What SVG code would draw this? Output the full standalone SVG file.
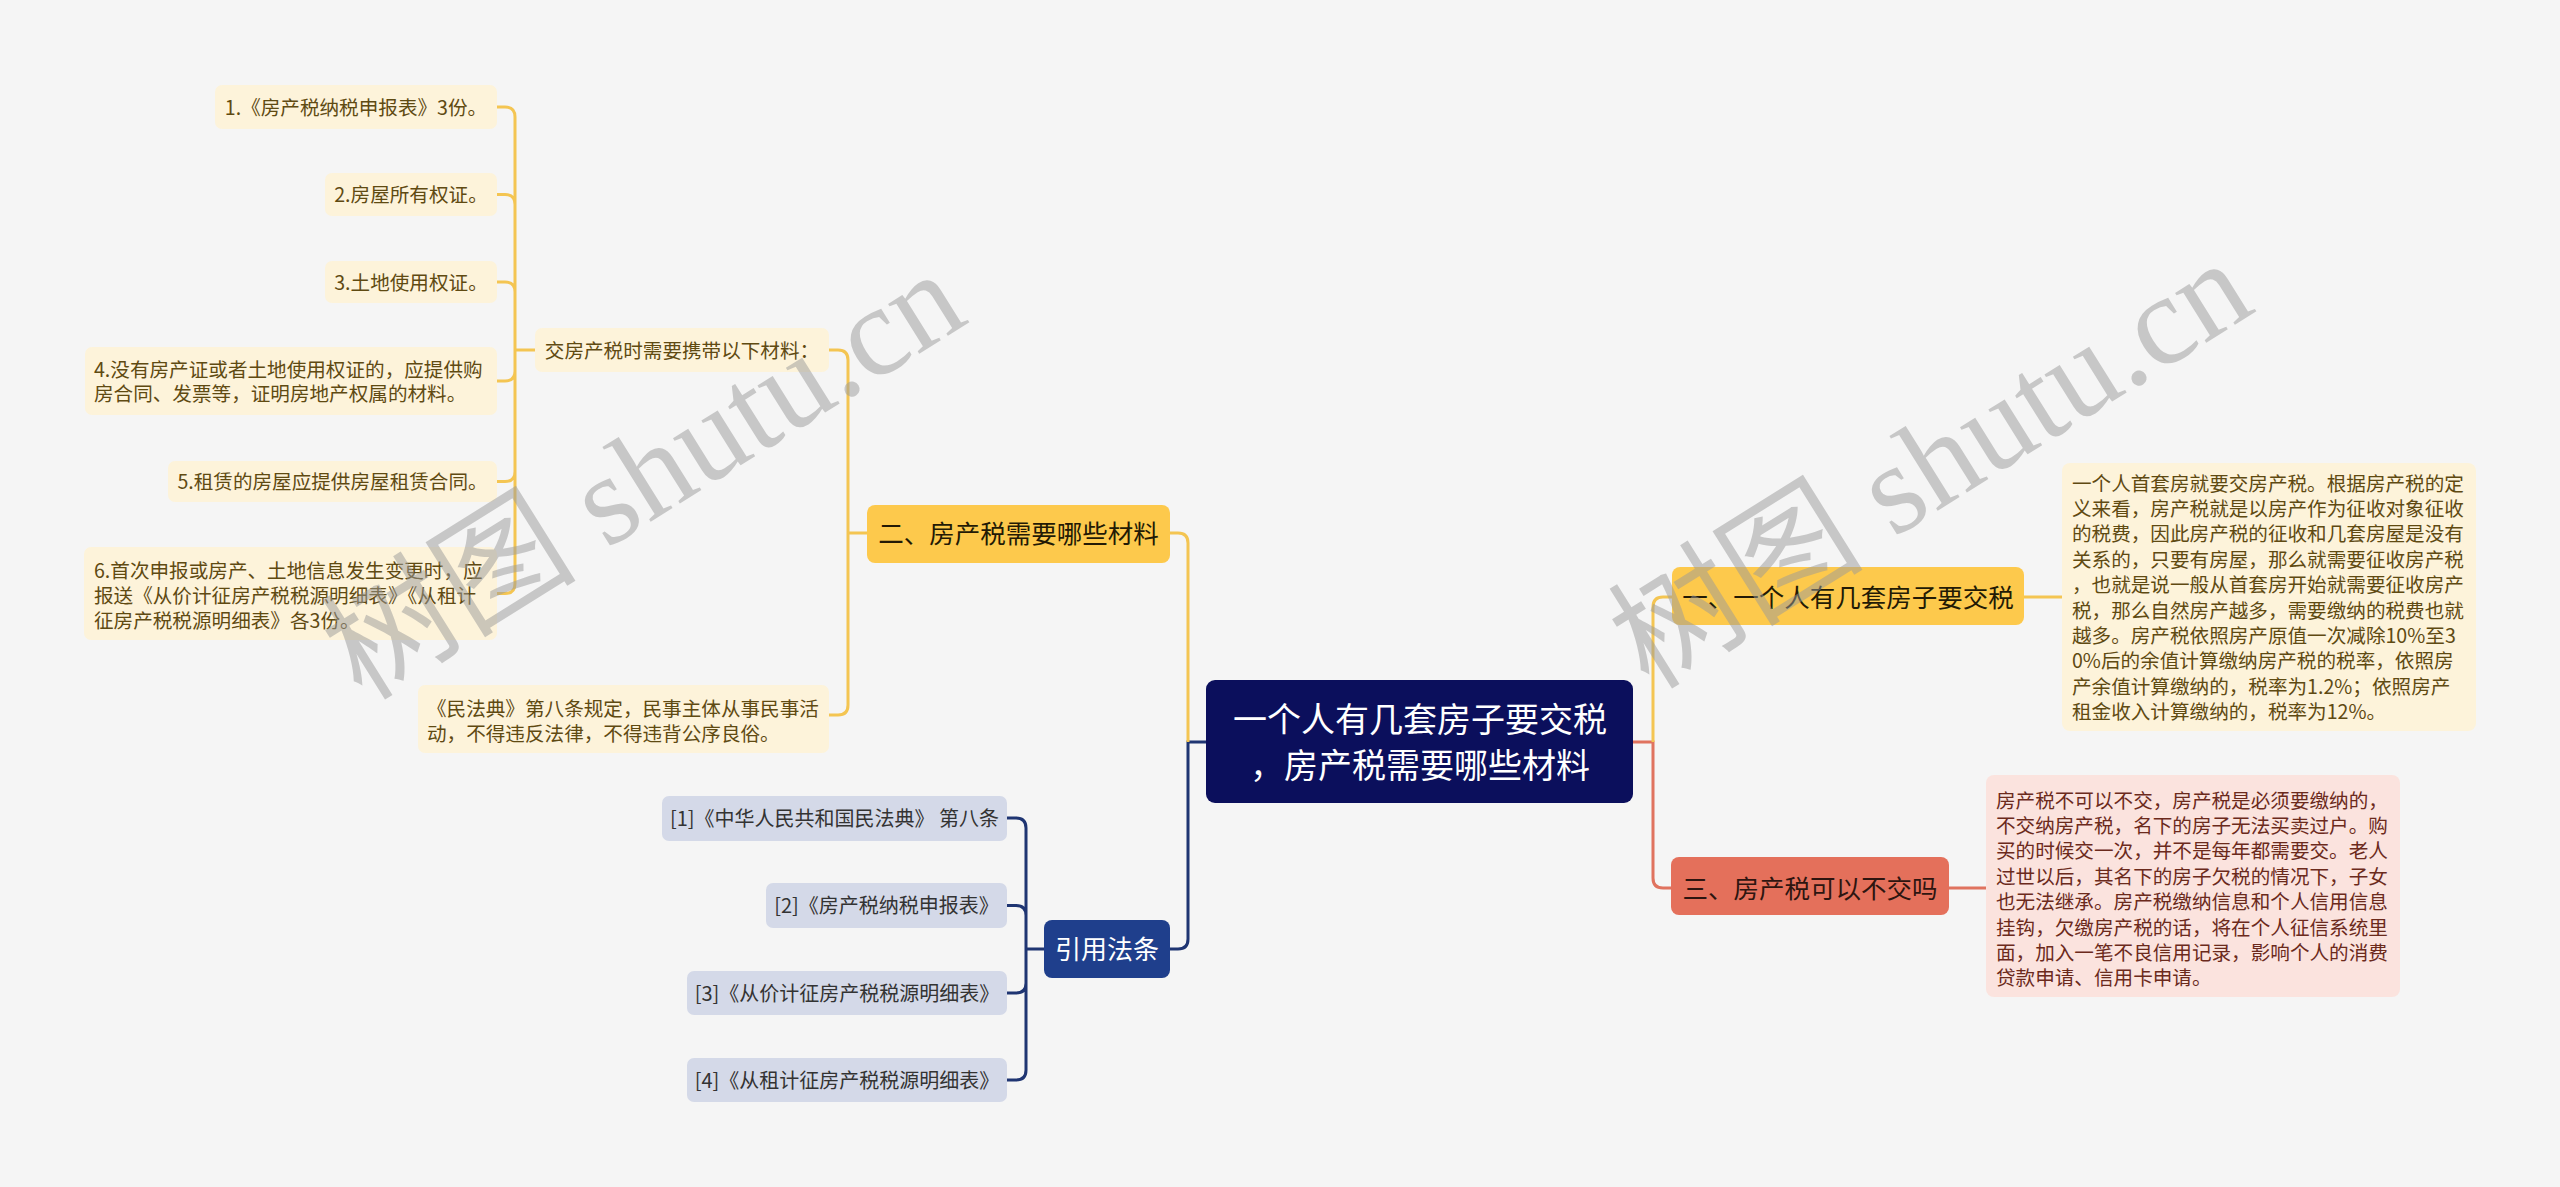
<svg xmlns="http://www.w3.org/2000/svg" width="2560" height="1187" viewBox="0 0 2560 1187">
<style>
text{font-family:"Noto Sans CJK SC","Noto Sans",sans-serif}
.y{fill:#fdc94c}
.yt{fill:#231a05;font-size:25.5px;text-anchor:middle}
.s{fill:#fdf3da}
.st{fill:#5f4a12;font-size:19.6px}
.c{fill:#d4d9e8}
.ct{fill:#333333;font-size:20px;text-anchor:middle}
.m{text-anchor:middle}
.ly{stroke:#f4c552;stroke-width:3;fill:none}
.lr{stroke:#e0735f;stroke-width:3;fill:none}
.ln{stroke:#1f3572;stroke-width:3;fill:none}
.wm{font-family:"Liberation Serif","Noto Sans CJK SC",serif;font-size:128px;fill:#9a9a9a;opacity:0.5}
</style>
<rect width="2560" height="1187" fill="#f5f5f5"/>
<g id="connectors">
<path class="lr" d="M1633,742 H1653 V878 Q1653,888 1663,888 H1671"/>
<path class="ly" d="M1653,742 V607 Q1653,597 1663,597 H1672"/>
<path class="ly" d="M2024,597 H2062"/>
<path class="lr" d="M1949,888 H1986"/>
<path class="ln" d="M1206,742 H1188 V939 Q1188,949 1178,949 H1170"/>
<path class="ly" d="M1188,742 V543 Q1188,533 1178,533 H1170"/>
<path class="ly" d="M867,533 H848 M848,533 V360 Q848,350 838,350 H829 M848,533 V705 Q848,715 838,715 H829"/>
<path class="ly" d="M535,350 H515 M515,350 V117 Q515,107 505,107 H497 M515,350 V204.5 Q515,194.5 505,194.5 H497 M515,350 V292 Q515,282 505,282 H497 M515,350 V371 Q515,381 505,381 H497 M515,350 V471.5 Q515,481.5 505,481.5 H497 M515,350 V583.5 Q515,593.5 505,593.5 H497"/>
<path class="ln" d="M1044,949 H1026 M1026,949 V828 Q1026,818 1016,818 H1007 M1026,949 V915.5 Q1026,905.5 1016,905.5 H1007 M1026,949 V983 Q1026,993 1016,993 H1007 M1026,949 V1070 Q1026,1080 1016,1080 H1007"/>
</g>
<g id="root">
<rect x="1206" y="680" width="427" height="123" rx="9" fill="#0b0f5c"/>
<text class="m" x="1420" y="732" font-size="34" fill="#ffffff">一个人有几套房子要交税</text>
<text class="m" x="1420" y="778" font-size="34" fill="#ffffff">，房产税需要哪些材料</text>
</g>
<g id="n1">
<rect class="y" x="1672" y="567" width="352" height="58" rx="8"/>
<text class="yt" x="1848" y="606.5">一、一个人有几套房子要交税</text>
</g>
<g id="n1d">
<rect class="s" x="2062" y="463" width="414" height="268" rx="8"/>
<text class="st" x="2072" y="490.5">一个人首套房就要交房产税。根据房产税的定</text>
<text class="st" x="2072" y="515.9">义来看，房产税就是以房产作为征收对象征收</text>
<text class="st" x="2072" y="541.3">的税费，因此房产税的征收和几套房屋是没有</text>
<text class="st" x="2072" y="566.7">关系的，只要有房屋，那么就需要征收房产税</text>
<text class="st" x="2072" y="592.1">，也就是说一般从首套房开始就需要征收房产</text>
<text class="st" x="2072" y="617.5">税，那么自然房产越多，需要缴纳的税费也就</text>
<text class="st" x="2072" y="642.9">越多。房产税依照房产原值一次减除10%至3</text>
<text class="st" x="2072" y="668.3">0%后的余值计算缴纳房产税的税率，依照房</text>
<text class="st" x="2072" y="693.7">产余值计算缴纳的，税率为1.2%；依照房产</text>
<text class="st" x="2072" y="719.1">租金收入计算缴纳的，税率为12%。</text>
</g>
<g id="n3">
<rect x="1671" y="857" width="278" height="58" rx="8" fill="#e4705b"/>
<text class="m" x="1810" y="897.5" font-size="25.5" fill="#2e1510">三、房产税可以不交吗</text>
</g>
<g id="n3d">
<rect x="1986" y="775" width="414" height="222" rx="8" fill="#fbe3de"/>
<g fill="#6b2a1c" font-size="19.6">
<text x="1996" y="807.5">房产税不可以不交，房产税是必须要缴纳的，</text>
<text x="1996" y="832.9">不交纳房产税，名下的房子无法买卖过户。购</text>
<text x="1996" y="858.3">买的时候交一次，并不是每年都需要交。老人</text>
<text x="1996" y="883.7">过世以后，其名下的房子欠税的情况下，子女</text>
<text x="1996" y="909.1">也无法继承。房产税缴纳信息和个人信用信息</text>
<text x="1996" y="934.5">挂钩，欠缴房产税的话，将在个人征信系统里</text>
<text x="1996" y="959.9">面，加入一笔不良信用记录，影响个人的消费</text>
<text x="1996" y="985.3">贷款申请、信用卡申请。</text>
</g>
</g>
<g id="n2">
<rect class="y" x="867" y="505" width="303" height="58" rx="8"/>
<text class="yt" x="1018.5" y="543">二、房产税需要哪些材料</text>
</g>
<g id="n2a">
<rect class="s" x="535" y="328" width="294" height="44" rx="7"/>
<text class="st m" x="682" y="357.5">交房产税时需要携带以下材料：</text>
</g>
<g id="m1">
<rect class="s" x="215" y="85" width="282" height="44" rx="7"/>
<text class="st m" x="356" y="114.5">1.《房产税纳税申报表》3份。</text>
</g>
<g id="m2">
<rect class="s" x="325" y="173" width="172" height="43" rx="7"/>
<text class="st m" x="411" y="202">2.房屋所有权证。</text>
</g>
<g id="m3">
<rect class="s" x="325" y="261" width="172" height="42" rx="7"/>
<text class="st m" x="411" y="289.5">3.土地使用权证。</text>
</g>
<g id="m4">
<rect class="s" x="85" y="347" width="412" height="68" rx="7"/>
<text class="st" x="94" y="376.5">4.没有房产证或者土地使用权证的，应提供购</text>
<text class="st" x="94" y="400.5">房合同、发票等，证明房地产权属的材料。</text>
</g>
<g id="m5">
<rect class="s" x="168" y="461" width="329" height="41" rx="7"/>
<text class="st m" x="332.5" y="489">5.租赁的房屋应提供房屋租赁合同。</text>
</g>
<g id="m6">
<rect class="s" x="84" y="547" width="413" height="93" rx="7"/>
<text class="st" x="94" y="577.5">6.首次申报或房产、土地信息发生变更时，应</text>
<text class="st" x="94" y="602.5">报送《从价计征房产税税源明细表》《从租计</text>
<text class="st" x="94" y="627.5">征房产税税源明细表》各3份。</text>
</g>
<g id="n2b">
<rect class="s" x="418" y="685" width="411" height="68" rx="7"/>
<text class="st" x="427" y="715.5">《民法典》第八条规定，民事主体从事民事活</text>
<text class="st" x="427" y="740.5">动，不得违反法律，不得违背公序良俗。</text>
</g>
<g id="n4">
<rect x="1044" y="920" width="126" height="58" rx="8" fill="#1f3f8c"/>
<text class="m" x="1107" y="959" font-size="26" fill="#ffffff">引用法条</text>
</g>
<g id="c1">
<rect class="c" x="662" y="796" width="345" height="45" rx="7"/>
<text class="ct" x="834.5" y="825.5">[1]《中华人民共和国民法典》 第八条</text>
</g>
<g id="c2">
<rect class="c" x="766" y="883" width="241" height="45" rx="7"/>
<text class="ct" x="886.5" y="913">[2]《房产税纳税申报表》</text>
</g>
<g id="c3">
<rect class="c" x="687" y="971" width="320" height="44" rx="7"/>
<text class="ct" x="847" y="1000.5">[3]《从价计征房产税税源明细表》</text>
</g>
<g id="c4">
<rect class="c" x="687" y="1058" width="320" height="44" rx="7"/>
<text class="ct" x="847" y="1087.5">[4]《从租计征房产税税源明细表》</text>
</g>
<g id="watermark">
<text class="wm" transform="translate(362,702) rotate(-32)">树图 shutu.cn</text>
<text class="wm" transform="translate(1649,691) rotate(-32)">树图 shutu.cn</text>
</g>
</svg>
